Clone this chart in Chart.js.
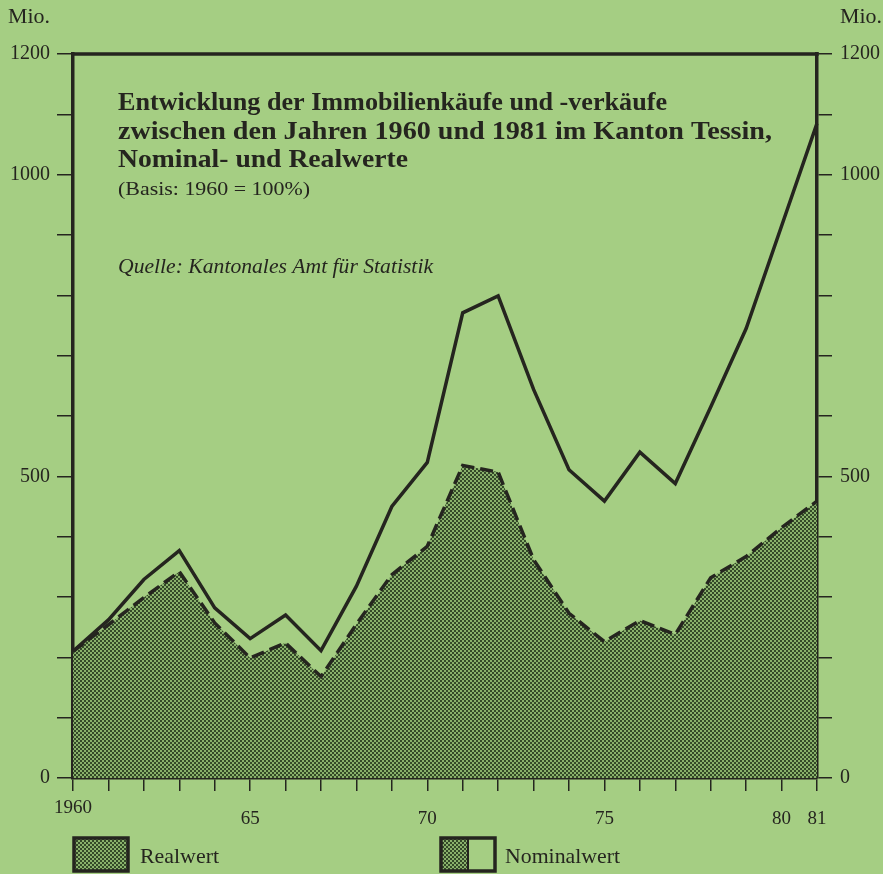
<!DOCTYPE html>
<html>
<head>
<meta charset="utf-8">
<script src="https://cdn.jsdelivr.net/npm/chart.js@4.4.1/dist/chart.umd.min.js"></script>
<style>
  html, body { margin: 0; padding: 0; background: #a5ce83; }
  #wrap { width: 883px; height: 874px; }
</style>
</head>
<body>
<div id="wrap"><canvas id="mychart" width="883" height="874"></canvas></div>
<script>
// data (Mio. Fr.)
const years = [1960, 1961, 1962, 1963, 1964, 1965, 1966, 1967, 1968, 1969, 1970,
               1971, 1972, 1973, 1974, 1975, 1976, 1977, 1978, 1979, 1980, 1981];
const nominalwert = [210, 262, 329, 377, 282, 231, 270, 211, 318, 450, 523,
                     771, 799, 644, 511, 459, 540, 488, 615, 745, 915, 1085];
const realwert = [210, 254, 299, 342, 257, 199, 224, 168, 255, 337, 384,
                  518, 507, 362, 273, 226, 261, 238, 332, 367, 415, 459];

const xTickYears = [1960, 1965, 1970, 1975, 1980, 1981];
const xTickTexts = ['1960', '65', '70', '75', '80', '81'];
const yTickValues = [0, 500, 1000, 1200];

const titleLines = [
    'Entwicklung der Immobilienkäufe und -verkäufe',
    'zwischen den Jahren 1960 und 1981 im Kanton Tessin,',
    'Nominal- und Realwerte'
];
const basisText = '(Basis: 1960 = 100%)';
const sourceText = 'Quelle: Kantonales Amt für Statistik';

const ink = '#25251f';
const serif = '"Liberation Serif", "DejaVu Serif", serif';

// dotted screen for the real value area
function makeScreen(ctx) {
    const c = document.createElement('canvas');
    c.width = 4; c.height = 4;
    const g = c.getContext('2d');
    g.fillStyle = '#89b16b';
    g.fillRect(0, 0, 4, 4);
    g.fillStyle = '#344a28';
    g.fillRect(0, 0, 2, 2);
    g.fillRect(2, 2, 2, 2);
    return ctx.createPattern(c, 'repeat');
}

const canvas = document.getElementById('mychart');
const screen = makeScreen(canvas.getContext('2d'));

function yTick(value) {
    return yTickValues.includes(value) ? String(value) : '';
}

// draw text squeezed / stretched to a given width
function fitText(ctx, text, x, y, width) {
    const w = ctx.measureText(text).width;
    ctx.save();
    ctx.translate(x, y);
    ctx.scale(width / w, 1);
    ctx.fillText(text, 0, 0);
    ctx.restore();
}

const decor = {
    id: 'decor',
    afterDraw(chart) {
        const {ctx, chartArea: a} = chart;
        ctx.save();
        // top frame line
        ctx.strokeStyle = ink;
        ctx.lineWidth = 3.5;
        ctx.beginPath();
        ctx.moveTo(a.left - 1.75, a.top);
        ctx.lineTo(a.right + 1.75, a.top);
        ctx.stroke();

        ctx.fillStyle = ink;
        ctx.textBaseline = 'middle';
        ctx.textAlign = 'left';
        ctx.font = '20px ' + serif;
        fitText(ctx, 'Mio.', 8, 18, 42);
        fitText(ctx, 'Mio.', 840, 18, 42);

        ctx.font = 'bold 26px ' + serif;
        fitText(ctx, titleLines[0], 118, 103, 549);
        fitText(ctx, titleLines[1], 118, 132, 654);
        fitText(ctx, titleLines[2], 118, 160, 290);
        ctx.font = '19px ' + serif;
        fitText(ctx, basisText, 118, 190, 192);
        ctx.font = 'italic 20px ' + serif;
        fitText(ctx, sourceText, 118, 268, 315);

        // legend
        ctx.lineWidth = 3.5;
        ctx.fillStyle = screen;
        ctx.fillRect(74, 838, 54, 33);
        ctx.strokeRect(74, 838, 54, 33);
        ctx.fillRect(441, 838, 27, 33);
        ctx.strokeRect(441, 838, 54, 33);
        ctx.lineWidth = 2;
        ctx.beginPath();
        ctx.moveTo(468, 838);
        ctx.lineTo(468, 871);
        ctx.stroke();
        ctx.fillStyle = ink;
        ctx.font = '22px ' + serif;
        fitText(ctx, 'Realwert', 140, 857, 79);
        fitText(ctx, 'Nominalwert', 505, 857, 115);
        ctx.restore();
    }
};

const chart = new Chart(canvas, {
    type: 'line',
    data: {
        labels: years,
        datasets: [
            {
                label: 'Nominalwert',
                data: nominalwert,
                borderColor: ink,
                borderWidth: 3.5,
                fill: false,
                pointRadius: 0,
                tension: 0,
            },
            {
                label: 'Realwert',
                data: realwert,
                borderColor: ink,
                borderWidth: 3.5,
                borderDash: [13, 6],
                backgroundColor: screen,
                fill: 'origin',
                pointRadius: 0,
                tension: 0,
            },
        ],
    },
    options: {
        responsive: false,
        animation: false,
        devicePixelRatio: 1,
        layout: {
            padding: {top: 54, left: 0, right: 0, bottom: 0},
        },
        scales: {
            x: {
                afterFit(scale) { scale.height = 96; },
                grid: {
                    drawOnChartArea: false,
                    tickLength: 13,
                    color: ink,
                    lineWidth: 1.5,
                },
                border: {color: ink, width: 3.5},
                ticks: {
                    autoSkip: false,
                    maxRotation: 0,
                    padding: 12,
                    color: ink,
                    font: {family: serif, size: 19, lineHeight: 0.55},
                    callback(value, index) {
                        const i = xTickYears.indexOf(years[index]);
                        if (i < 0) return '';
                        return i === 0 ? [xTickTexts[i]] : ['', xTickTexts[i]];
                    },
                },
            },
            y: {
                position: 'left',
                min: 0,
                max: 1200,
                afterFit(scale) { scale.width = 73; },
                grid: {
                    drawOnChartArea: false,
                    tickLength: 16,
                    color: ink,
                    lineWidth: 1.5,
                },
                border: {color: ink, width: 3.5},
                ticks: {
                    stepSize: 100,
                    padding: 7,
                    color: ink,
                    font: {family: serif, size: 20},
                    callback: yTick,
                },
            },
            y2: {
                position: 'right',
                min: 0,
                max: 1200,
                afterFit(scale) { scale.width = 66; },
                grid: {
                    drawOnChartArea: false,
                    tickLength: 15,
                    color: ink,
                    lineWidth: 1.5,
                },
                border: {color: ink, width: 3.5},
                ticks: {
                    stepSize: 100,
                    padding: 8,
                    color: ink,
                    font: {family: serif, size: 20},
                    callback: yTick,
                },
            },
        },
        plugins: {
            legend: {display: false},
            tooltip: {enabled: false},
        },
    },
    plugins: [decor],
});
</script>
</body>
</html>
